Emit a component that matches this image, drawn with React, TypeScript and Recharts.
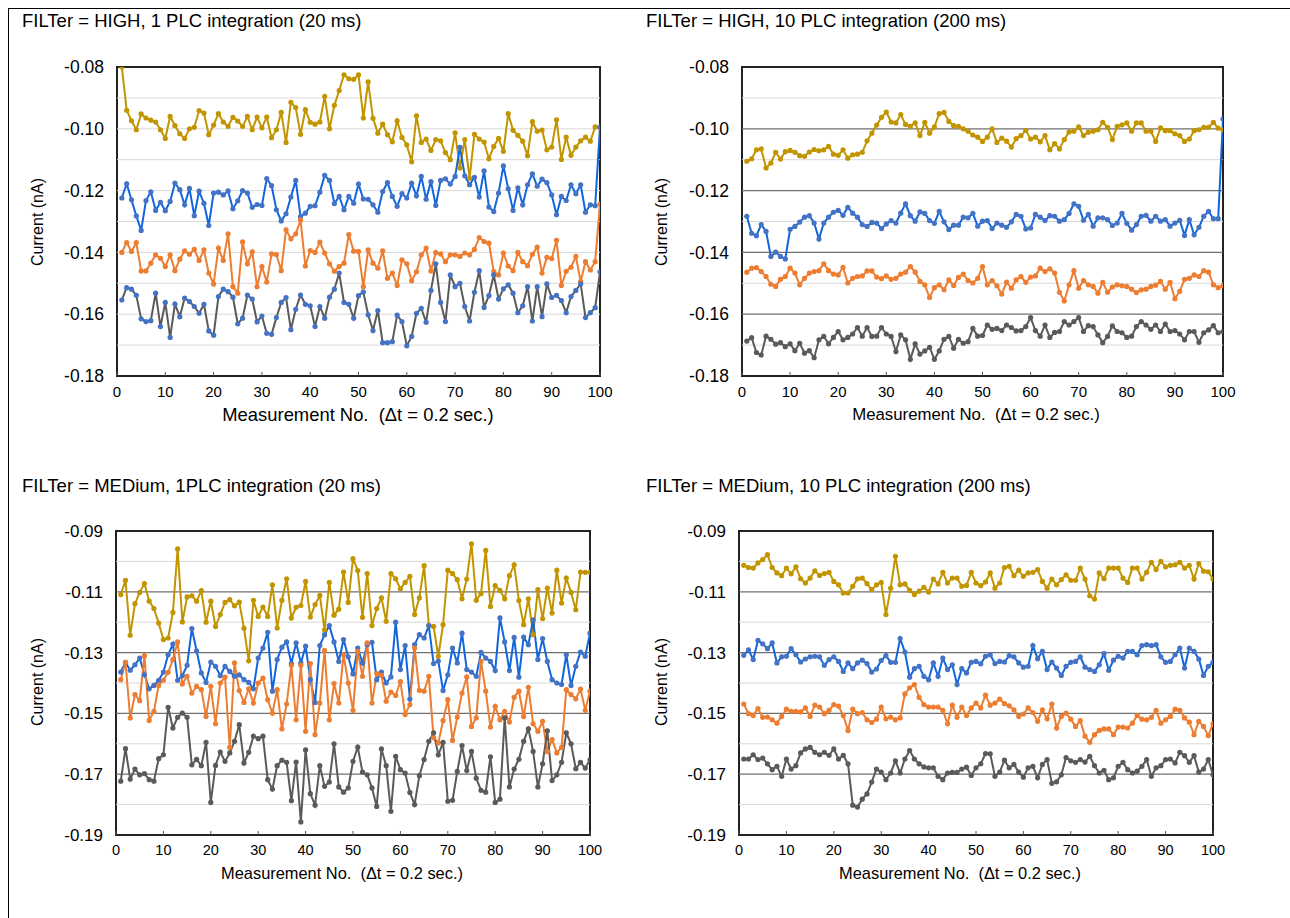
import React from 'react';
import { LineChart, Line, XAxis, YAxis, ReferenceLine, ReferenceArea } from 'recharts';

// ---------- categories / ticks ----------
const measurementNo: number[] = Array.from({ length: 100 }, (_, i) => i + 1);
const xTicks = [0, 10, 20, 30, 40, 50, 60, 70, 80, 90, 100];
const yTicksHigh = [-0.18, -0.16, -0.14, -0.12, -0.1, -0.08];
const yTicksMed = [-0.19, -0.17, -0.15, -0.13, -0.11, -0.09];
const gridHighAll = [-0.17, -0.16, -0.15, -0.14, -0.13, -0.12, -0.11, -0.1, -0.09];
const gridHighMajor = [-0.16, -0.14, -0.12, -0.1];
const gridHighMinor = [-0.17, -0.15, -0.13, -0.11, -0.09];
const gridMedMajor = [-0.17, -0.15, -0.13, -0.11];
const gridMedMinor = [-0.18, -0.16, -0.14, -0.12, -0.1];

// ---------- Panel 1: FILTer = HIGH, 1 PLC ----------
const p1Yellow = [
  -0.0800, -0.0940, -0.0974, -0.1003, -0.0952, -0.0965, -0.0972, -0.0978, -0.1003, -0.1031,
  -0.0960, -0.0990, -0.1016, -0.1031, -0.1000, -0.0995, -0.0941, -0.0949, -0.1019, -0.0988,
  -0.0951, -0.0978, -0.0992, -0.0963, -0.0975, -0.0992, -0.0960, -0.1003, -0.0962, -0.0997,
  -0.0962, -0.1029, -0.1003, -0.0947, -0.1044, -0.0914, -0.0931, -0.1018, -0.0938, -0.0979,
  -0.0985, -0.0978, -0.0895, -0.1000, -0.0924, -0.0876, -0.0825, -0.0838, -0.0840, -0.0825,
  -0.0965, -0.0848, -0.0966, -0.1014, -0.0985, -0.1019, -0.1042, -0.0974, -0.1028, -0.1052,
  -0.1107, -0.0958, -0.1044, -0.1033, -0.1070, -0.1035, -0.1039, -0.1077, -0.1100, -0.1013,
  -0.1127, -0.1035, -0.1160, -0.1018, -0.1033, -0.1043, -0.1097, -0.1057, -0.1031, -0.1073,
  -0.0951, -0.1005, -0.1021, -0.1040, -0.1087, -0.0977, -0.1008, -0.1004, -0.1068, -0.1059,
  -0.0971, -0.1099, -0.1027, -0.1086, -0.1059, -0.1039, -0.1027, -0.1040, -0.0994, -0.0995,
];
const p1Blue = [
  -0.1224, -0.1178, -0.1230, -0.1282, -0.1329, -0.1232, -0.1204, -0.1264, -0.1238, -0.1265,
  -0.1235, -0.1176, -0.1197, -0.1246, -0.1193, -0.1281, -0.1202, -0.1241, -0.1313, -0.1208,
  -0.1205, -0.1214, -0.1201, -0.1259, -0.1233, -0.1200, -0.1208, -0.1254, -0.1245, -0.1248,
  -0.1161, -0.1184, -0.1262, -0.1298, -0.1275, -0.1221, -0.1167, -0.1284, -0.1273, -0.1251,
  -0.1249, -0.1205, -0.1151, -0.1167, -0.1242, -0.1219, -0.1262, -0.1219, -0.1241, -0.1179,
  -0.1227, -0.1228, -0.1246, -0.1270, -0.1203, -0.1174, -0.1219, -0.1251, -0.1210, -0.1224,
  -0.1176, -0.1217, -0.1154, -0.1228, -0.1171, -0.1248, -0.1167, -0.1162, -0.1179, -0.1154,
  -0.1060, -0.1152, -0.1181, -0.1157, -0.1221, -0.1136, -0.1253, -0.1268, -0.1208, -0.1120,
  -0.1194, -0.1264, -0.1191, -0.1246, -0.1181, -0.1146, -0.1186, -0.1163, -0.1174, -0.1214,
  -0.1278, -0.1219, -0.1232, -0.1181, -0.1210, -0.1181, -0.1270, -0.1246, -0.1249, -0.0995,
];
const p1Orange = [
  -0.1400, -0.1368, -0.1397, -0.1368, -0.1460, -0.1460, -0.1435, -0.1408, -0.1419, -0.1446,
  -0.1408, -0.1459, -0.1422, -0.1395, -0.1406, -0.1390, -0.1426, -0.1392, -0.1467, -0.1502,
  -0.1386, -0.1426, -0.1340, -0.1511, -0.1532, -0.1366, -0.1437, -0.1398, -0.1511, -0.1446,
  -0.1496, -0.1405, -0.1407, -0.1459, -0.1327, -0.1356, -0.1340, -0.1295, -0.1444, -0.1394,
  -0.1400, -0.1367, -0.1402, -0.1437, -0.1461, -0.1446, -0.1435, -0.1342, -0.1396, -0.1397,
  -0.1511, -0.1392, -0.1435, -0.1451, -0.1395, -0.1484, -0.1467, -0.1507, -0.1424, -0.1437,
  -0.1492, -0.1463, -0.1408, -0.1386, -0.1460, -0.1400, -0.1405, -0.1430, -0.1408, -0.1408,
  -0.1413, -0.1402, -0.1408, -0.1390, -0.1352, -0.1365, -0.1370, -0.1462, -0.1473, -0.1402,
  -0.1444, -0.1459, -0.1400, -0.1430, -0.1443, -0.1406, -0.1383, -0.1467, -0.1416, -0.1420,
  -0.1361, -0.1507, -0.1461, -0.1448, -0.1413, -0.1494, -0.1430, -0.1457, -0.1430, -0.1243,
];
const p1Grey = [
  -0.1554, -0.1514, -0.1519, -0.1539, -0.1615, -0.1624, -0.1621, -0.1532, -0.1640, -0.1562,
  -0.1675, -0.1567, -0.1608, -0.1548, -0.1559, -0.1575, -0.1597, -0.1568, -0.1654, -0.1668,
  -0.1543, -0.1519, -0.1527, -0.1545, -0.1631, -0.1613, -0.1538, -0.1551, -0.1625, -0.1606,
  -0.1662, -0.1665, -0.1611, -0.1562, -0.1546, -0.1650, -0.1584, -0.1538, -0.1568, -0.1573,
  -0.1640, -0.1575, -0.1613, -0.1545, -0.1519, -0.1467, -0.1562, -0.1568, -0.1613, -0.1540,
  -0.1528, -0.1602, -0.1653, -0.1588, -0.1692, -0.1692, -0.1689, -0.1603, -0.1624, -0.1702,
  -0.1672, -0.1597, -0.1581, -0.1626, -0.1523, -0.1437, -0.1562, -0.1624, -0.1473, -0.1511,
  -0.1500, -0.1575, -0.1622, -0.1529, -0.1459, -0.1578, -0.1540, -0.1473, -0.1551, -0.1518,
  -0.1505, -0.1532, -0.1595, -0.1573, -0.1511, -0.1622, -0.1511, -0.1608, -0.1502, -0.1546,
  -0.1539, -0.1556, -0.1595, -0.1543, -0.1523, -0.1502, -0.1611, -0.1595, -0.1579, -0.1463,
];

// ---------- Panel 2: FILTer = HIGH, 10 PLC ----------
const p2Yellow = [
  -0.1105, -0.1097, -0.1068, -0.1065, -0.1127, -0.1111, -0.1076, -0.1098, -0.1074, -0.1070,
  -0.1076, -0.1087, -0.1089, -0.1075, -0.1067, -0.1071, -0.1068, -0.1057, -0.1082, -0.1086,
  -0.1068, -0.1095, -0.1084, -0.1082, -0.1076, -0.1039, -0.1014, -0.0988, -0.0963, -0.0946,
  -0.0978, -0.0981, -0.0954, -0.0986, -0.0992, -0.0981, -0.1022, -0.0979, -0.1014, -0.0994,
  -0.0951, -0.0947, -0.0976, -0.0990, -0.0992, -0.1000, -0.1008, -0.1020, -0.1027, -0.1041,
  -0.1027, -0.1000, -0.1044, -0.1030, -0.1040, -0.1059, -0.1032, -0.1022, -0.1005, -0.1033,
  -0.1027, -0.1042, -0.1022, -0.1068, -0.1048, -0.1065, -0.1035, -0.1010, -0.1008, -0.0994,
  -0.1022, -0.1011, -0.1008, -0.1003, -0.0979, -0.0995, -0.1035, -0.0992, -0.0987, -0.0981,
  -0.1008, -0.0981, -0.0981, -0.1008, -0.1008, -0.1041, -0.0997, -0.1006, -0.1006, -0.1016,
  -0.1022, -0.1041, -0.1033, -0.1006, -0.1003, -0.0995, -0.0995, -0.0979, -0.0998, -0.1003,
];
const p2Blue = [
  -0.1283, -0.1338, -0.1346, -0.1310, -0.1332, -0.1413, -0.1399, -0.1413, -0.1421, -0.1325,
  -0.1316, -0.1302, -0.1286, -0.1281, -0.1305, -0.1357, -0.1305, -0.1286, -0.1270, -0.1264,
  -0.1280, -0.1254, -0.1273, -0.1286, -0.1310, -0.1316, -0.1303, -0.1305, -0.1323, -0.1308,
  -0.1297, -0.1305, -0.1273, -0.1243, -0.1281, -0.1299, -0.1269, -0.1274, -0.1297, -0.1306,
  -0.1267, -0.1301, -0.1326, -0.1312, -0.1312, -0.1286, -0.1288, -0.1274, -0.1315, -0.1299,
  -0.1297, -0.1323, -0.1305, -0.1312, -0.1319, -0.1301, -0.1277, -0.1283, -0.1324, -0.1321,
  -0.1277, -0.1286, -0.1297, -0.1281, -0.1283, -0.1299, -0.1294, -0.1274, -0.1243, -0.1251,
  -0.1296, -0.1277, -0.1315, -0.1288, -0.1288, -0.1294, -0.1313, -0.1305, -0.1274, -0.1306,
  -0.1328, -0.1310, -0.1283, -0.1280, -0.1299, -0.1283, -0.1299, -0.1294, -0.1315, -0.1305,
  -0.1296, -0.1345, -0.1294, -0.1343, -0.1319, -0.1283, -0.1267, -0.1291, -0.1291, -0.0968,
];
const p2Orange = [
  -0.1464, -0.1451, -0.1449, -0.1462, -0.1478, -0.1503, -0.1510, -0.1487, -0.1478, -0.1451,
  -0.1467, -0.1505, -0.1484, -0.1467, -0.1462, -0.1459, -0.1437, -0.1459, -0.1470, -0.1473,
  -0.1448, -0.1499, -0.1484, -0.1478, -0.1476, -0.1460, -0.1460, -0.1480, -0.1485, -0.1476,
  -0.1487, -0.1484, -0.1470, -0.1464, -0.1446, -0.1464, -0.1494, -0.1505, -0.1546, -0.1514,
  -0.1505, -0.1521, -0.1489, -0.1507, -0.1481, -0.1470, -0.1491, -0.1499, -0.1484, -0.1446,
  -0.1505, -0.1491, -0.1508, -0.1535, -0.1496, -0.1516, -0.1489, -0.1478, -0.1497, -0.1480,
  -0.1476, -0.1451, -0.1462, -0.1453, -0.1467, -0.1529, -0.1557, -0.1505, -0.1459, -0.1516,
  -0.1491, -0.1505, -0.1510, -0.1532, -0.1497, -0.1529, -0.1512, -0.1505, -0.1508, -0.1510,
  -0.1519, -0.1530, -0.1521, -0.1519, -0.1510, -0.1506, -0.1494, -0.1519, -0.1497, -0.1550,
  -0.1526, -0.1487, -0.1484, -0.1473, -0.1478, -0.1459, -0.1464, -0.1505, -0.1514, -0.1508,
];
const p2Grey = [
  -0.1687, -0.1676, -0.1724, -0.1732, -0.1671, -0.1681, -0.1697, -0.1692, -0.1705, -0.1696,
  -0.1718, -0.1694, -0.1726, -0.1718, -0.1741, -0.1683, -0.1672, -0.1696, -0.1675, -0.1656,
  -0.1683, -0.1675, -0.1664, -0.1643, -0.1671, -0.1643, -0.1672, -0.1671, -0.1643, -0.1664,
  -0.1672, -0.1721, -0.1667, -0.1683, -0.1746, -0.1696, -0.1729, -0.1719, -0.1707, -0.1746,
  -0.1719, -0.1681, -0.1672, -0.1710, -0.1681, -0.1694, -0.1689, -0.1646, -0.1671, -0.1669,
  -0.1635, -0.1649, -0.1646, -0.1653, -0.1635, -0.1643, -0.1654, -0.1653, -0.1640, -0.1611,
  -0.1653, -0.1671, -0.1635, -0.1675, -0.1659, -0.1656, -0.1624, -0.1635, -0.1624, -0.1611,
  -0.1656, -0.1637, -0.1640, -0.1667, -0.1692, -0.1672, -0.1638, -0.1656, -0.1660, -0.1675,
  -0.1671, -0.1640, -0.1624, -0.1635, -0.1649, -0.1635, -0.1656, -0.1632, -0.1656, -0.1653,
  -0.1664, -0.1683, -0.1656, -0.1656, -0.1691, -0.1660, -0.1651, -0.1637, -0.1660, -0.1656,
];

// ---------- Panel 3: FILTer = MEDium, 1 PLC ----------
const p3Yellow = [
  -0.1109, -0.1062, -0.1243, -0.1139, -0.1102, -0.1073, -0.1131, -0.1155, -0.1203, -0.1257,
  -0.1252, -0.1168, -0.0959, -0.1199, -0.1117, -0.1113, -0.1131, -0.1096, -0.1200, -0.1131,
  -0.1214, -0.1175, -0.1135, -0.1126, -0.1146, -0.1134, -0.1220, -0.1327, -0.1128, -0.1181,
  -0.1150, -0.1181, -0.1077, -0.1219, -0.1128, -0.1057, -0.1186, -0.1151, -0.1145, -0.1066,
  -0.1183, -0.1142, -0.1112, -0.1225, -0.1069, -0.1177, -0.1157, -0.1035, -0.1135, -0.0991,
  -0.1030, -0.1184, -0.1040, -0.1211, -0.1155, -0.1120, -0.1197, -0.1040, -0.1057, -0.1090,
  -0.1069, -0.1049, -0.1175, -0.1120, -0.1014, -0.1211, -0.1214, -0.1312, -0.1208, -0.1029,
  -0.1040, -0.1060, -0.1123, -0.1058, -0.0942, -0.1128, -0.1106, -0.0964, -0.1148, -0.1080,
  -0.1095, -0.1123, -0.1047, -0.1011, -0.1129, -0.1208, -0.1123, -0.1241, -0.1093, -0.1188,
  -0.1088, -0.1170, -0.1029, -0.1137, -0.1055, -0.1102, -0.1159, -0.1035, -0.1036, -0.1036,
];
const p3Blue = [
  -0.1364, -0.1332, -0.1358, -0.1340, -0.1318, -0.1373, -0.1419, -0.1408, -0.1391, -0.1364,
  -0.1307, -0.1272, -0.1391, -0.1376, -0.1342, -0.1221, -0.1294, -0.1367, -0.1398, -0.1331,
  -0.1345, -0.1376, -0.1345, -0.1362, -0.1378, -0.1373, -0.1389, -0.1398, -0.1419, -0.1318,
  -0.1285, -0.1233, -0.1427, -0.1323, -0.1282, -0.1265, -0.1336, -0.1268, -0.1334, -0.1279,
  -0.1389, -0.1464, -0.1277, -0.1241, -0.1211, -0.1265, -0.1329, -0.1257, -0.1314, -0.1370,
  -0.1285, -0.1334, -0.1274, -0.1266, -0.1389, -0.1364, -0.1400, -0.1380, -0.1200, -0.1356,
  -0.1277, -0.1453, -0.1274, -0.1241, -0.1252, -0.1211, -0.1336, -0.1328, -0.1425, -0.1373,
  -0.1285, -0.1334, -0.1236, -0.1356, -0.1364, -0.1378, -0.1299, -0.1318, -0.1329, -0.1359,
  -0.1186, -0.1265, -0.1359, -0.1250, -0.1381, -0.1249, -0.1274, -0.1192, -0.1323, -0.1254,
  -0.1329, -0.1389, -0.1400, -0.1405, -0.1307, -0.1408, -0.1345, -0.1298, -0.1312, -0.1236,
];
const p3Orange = [
  -0.1389, -0.1332, -0.1515, -0.1438, -0.1458, -0.1310, -0.1523, -0.1493, -0.1408, -0.1391,
  -0.1365, -0.1323, -0.1265, -0.1403, -0.1378, -0.1433, -0.1411, -0.1422, -0.1510, -0.1411,
  -0.1534, -0.1400, -0.1381, -0.1612, -0.1334, -0.1425, -0.1464, -0.1419, -0.1466, -0.1400,
  -0.1384, -0.1455, -0.1499, -0.1422, -0.1551, -0.1469, -0.1342, -0.1521, -0.1342, -0.1559,
  -0.1336, -0.1570, -0.1466, -0.1293, -0.1521, -0.1402, -0.1466, -0.1307, -0.1400, -0.1490,
  -0.1296, -0.1378, -0.1268, -0.1466, -0.1369, -0.1375, -0.1460, -0.1430, -0.1441, -0.1395,
  -0.1504, -0.1471, -0.1285, -0.1424, -0.1427, -0.1378, -0.1580, -0.1597, -0.1524, -0.1455,
  -0.1589, -0.1512, -0.1433, -0.1380, -0.1543, -0.1515, -0.1329, -0.1427, -0.1545, -0.1477,
  -0.1521, -0.1493, -0.1528, -0.1447, -0.1427, -0.1510, -0.1414, -0.1534, -0.1559, -0.1526,
  -0.1625, -0.1586, -0.1630, -0.1612, -0.1422, -0.1438, -0.1452, -0.1420, -0.1490, -0.1427,
];
const p3Grey = [
  -0.1723, -0.1616, -0.1716, -0.1683, -0.1702, -0.1698, -0.1718, -0.1723, -0.1649, -0.1636,
  -0.1480, -0.1548, -0.1513, -0.1499, -0.1513, -0.1669, -0.1651, -0.1672, -0.1595, -0.1793,
  -0.1671, -0.1627, -0.1658, -0.1630, -0.1592, -0.1537, -0.1663, -0.1628, -0.1575, -0.1583,
  -0.1575, -0.1718, -0.1749, -0.1672, -0.1654, -0.1661, -0.1787, -0.1660, -0.1857, -0.1620,
  -0.1764, -0.1802, -0.1672, -0.1740, -0.1726, -0.1600, -0.1742, -0.1759, -0.1745, -0.1658,
  -0.1611, -0.1693, -0.1702, -0.1745, -0.1806, -0.1617, -0.1672, -0.1822, -0.1641, -0.1685,
  -0.1696, -0.1760, -0.1800, -0.1705, -0.1652, -0.1592, -0.1564, -0.1636, -0.1595, -0.1789,
  -0.1786, -0.1691, -0.1606, -0.1688, -0.1625, -0.1713, -0.1753, -0.1759, -0.1643, -0.1793,
  -0.1782, -0.1515, -0.1742, -0.1683, -0.1651, -0.1592, -0.1551, -0.1625, -0.1742, -0.1666,
  -0.1557, -0.1721, -0.1702, -0.1661, -0.1564, -0.1600, -0.1682, -0.1661, -0.1680, -0.1652,
];

// ---------- Panel 4: FILTer = MEDium, 10 PLC ----------
const p4Yellow = [
  -0.1013, -0.1020, -0.1022, -0.1005, -0.0994, -0.0978, -0.1020, -0.1038, -0.1047, -0.1022,
  -0.1041, -0.1018, -0.1057, -0.1071, -0.1055, -0.1031, -0.1046, -0.1040, -0.1036, -0.1066,
  -0.1077, -0.1104, -0.1104, -0.1082, -0.1057, -0.1055, -0.1073, -0.1093, -0.1077, -0.1069,
  -0.1175, -0.1088, -0.0983, -0.1077, -0.1074, -0.1095, -0.1109, -0.1098, -0.1085, -0.1101,
  -0.1058, -0.1074, -0.1036, -0.1071, -0.1055, -0.1055, -0.1082, -0.1079, -0.1036, -0.1071,
  -0.1080, -0.1068, -0.1038, -0.1088, -0.1071, -0.1020, -0.1016, -0.1047, -0.1029, -0.1049,
  -0.1038, -0.1036, -0.1027, -0.1066, -0.1088, -0.1058, -0.1077, -0.1060, -0.1044, -0.1062,
  -0.1062, -0.1022, -0.1058, -0.1113, -0.1124, -0.1038, -0.1057, -0.1022, -0.1022, -0.1022,
  -0.1055, -0.1069, -0.1022, -0.1022, -0.1058, -0.1036, -0.1003, -0.1027, -0.1000, -0.1018,
  -0.1013, -0.1011, -0.1003, -0.1022, -0.1013, -0.1058, -0.1007, -0.1032, -0.1034, -0.1058,
];
const p4Blue = [
  -0.1309, -0.1291, -0.1323, -0.1260, -0.1271, -0.1287, -0.1268, -0.1334, -0.1314, -0.1312,
  -0.1287, -0.1307, -0.1331, -0.1321, -0.1314, -0.1312, -0.1314, -0.1342, -0.1323, -0.1314,
  -0.1329, -0.1362, -0.1334, -0.1353, -0.1334, -0.1325, -0.1336, -0.1364, -0.1354, -0.1326,
  -0.1310, -0.1332, -0.1332, -0.1254, -0.1298, -0.1381, -0.1353, -0.1345, -0.1378, -0.1389,
  -0.1334, -0.1378, -0.1318, -0.1356, -0.1340, -0.1405, -0.1353, -0.1367, -0.1332, -0.1329,
  -0.1337, -0.1312, -0.1307, -0.1336, -0.1329, -0.1331, -0.1310, -0.1314, -0.1334, -0.1348,
  -0.1345, -0.1277, -0.1320, -0.1296, -0.1356, -0.1331, -0.1351, -0.1375, -0.1345, -0.1332,
  -0.1329, -0.1314, -0.1348, -0.1356, -0.1362, -0.1340, -0.1303, -0.1358, -0.1325, -0.1312,
  -0.1318, -0.1296, -0.1296, -0.1307, -0.1277, -0.1274, -0.1277, -0.1274, -0.1314, -0.1332,
  -0.1329, -0.1307, -0.1285, -0.1351, -0.1285, -0.1296, -0.1321, -0.1375, -0.1345, -0.1332,
];
const p4Orange = [
  -0.1469, -0.1501, -0.1507, -0.1484, -0.1513, -0.1512, -0.1521, -0.1532, -0.1510, -0.1486,
  -0.1493, -0.1493, -0.1495, -0.1482, -0.1510, -0.1473, -0.1479, -0.1501, -0.1490, -0.1471,
  -0.1476, -0.1507, -0.1556, -0.1486, -0.1501, -0.1497, -0.1521, -0.1530, -0.1519, -0.1479,
  -0.1518, -0.1512, -0.1521, -0.1515, -0.1436, -0.1416, -0.1405, -0.1447, -0.1471, -0.1479,
  -0.1479, -0.1479, -0.1490, -0.1534, -0.1473, -0.1513, -0.1479, -0.1507, -0.1482, -0.1466,
  -0.1482, -0.1440, -0.1473, -0.1466, -0.1453, -0.1468, -0.1475, -0.1488, -0.1510, -0.1502,
  -0.1482, -0.1497, -0.1526, -0.1488, -0.1518, -0.1469, -0.1548, -0.1510, -0.1499, -0.1519,
  -0.1543, -0.1524, -0.1575, -0.1595, -0.1570, -0.1556, -0.1551, -0.1551, -0.1570, -0.1545,
  -0.1545, -0.1548, -0.1532, -0.1507, -0.1519, -0.1521, -0.1513, -0.1490, -0.1532, -0.1521,
  -0.1510, -0.1486, -0.1490, -0.1515, -0.1529, -0.1570, -0.1526, -0.1543, -0.1573, -0.1534,
];
const p4Grey = [
  -0.1650, -0.1650, -0.1636, -0.1652, -0.1647, -0.1666, -0.1685, -0.1674, -0.1707, -0.1650,
  -0.1683, -0.1672, -0.1630, -0.1617, -0.1612, -0.1628, -0.1636, -0.1628, -0.1638, -0.1617,
  -0.1650, -0.1638, -0.1666, -0.1802, -0.1808, -0.1782, -0.1765, -0.1726, -0.1683, -0.1693,
  -0.1718, -0.1696, -0.1656, -0.1696, -0.1650, -0.1622, -0.1650, -0.1666, -0.1676, -0.1679,
  -0.1679, -0.1707, -0.1718, -0.1696, -0.1694, -0.1694, -0.1683, -0.1677, -0.1704, -0.1679,
  -0.1666, -0.1632, -0.1633, -0.1707, -0.1693, -0.1654, -0.1679, -0.1668, -0.1693, -0.1710,
  -0.1679, -0.1674, -0.1712, -0.1668, -0.1652, -0.1730, -0.1725, -0.1702, -0.1645, -0.1656,
  -0.1661, -0.1652, -0.1660, -0.1641, -0.1672, -0.1696, -0.1687, -0.1718, -0.1712, -0.1674,
  -0.1661, -0.1685, -0.1696, -0.1690, -0.1674, -0.1652, -0.1707, -0.1679, -0.1672, -0.1652,
  -0.1650, -0.1663, -0.1628, -0.1639, -0.1661, -0.1639, -0.1693, -0.1683, -0.1652, -0.1702,
];

// ---------- styles ----------
const YELLOW = '#C29500';
const BLUE = '#1166DD';
const BLUE_DOT = '#4472C4';
const ORANGE = '#ED7D31';
const GREY = '#5A5A5A';
const FONT = '"Liberation Sans", Arial, Helvetica, sans-serif';

type Series = { key: string; values: number[]; color: string; dot: string };

type PanelProps = {
  px: number; py: number; pw: number; ph: number;
  domain: [number, number];
  yTicks: number[];
  minor: number[];
  major: number[];
  series: Series[];
  yTickFont: number;
  xTickFont: number;
};

function Panel(p: PanelProps) {
  const wy = 100, mt = 20, mr = 30, hx = 40;
  const data = measurementNo.map((n, i) => {
    const row: Record<string, number> = { n };
    p.series.forEach((s) => { row[s.key] = s.values[i]; });
    return row;
  });
  return (
    <div style={{ position: 'absolute', left: p.px - wy, top: p.py - mt }}>
      <LineChart width={wy + p.pw + mr} height={mt + p.ph + hx} data={data}
        margin={{ top: mt, right: mr, bottom: 0, left: 0 }}>
        {p.minor.map((v) => (
          <ReferenceLine key={'mi' + v} y={v} stroke="#D9D9D9" strokeWidth={1} />
        ))}
        {p.major.map((v) => (
          <ReferenceLine key={'ma' + v} y={v} stroke="#707070" strokeWidth={1.2} />
        ))}
        <XAxis dataKey="n" type="number" domain={[0, 100]} ticks={xTicks} interval={0}
          allowDataOverflow height={hx} axisLine={false}
          tickLine={{ stroke: '#555' }} tickSize={-4} tickMargin={14}
          tick={{ fill: '#000', fontSize: p.xTickFont, fontFamily: FONT }} />
        <YAxis type="number" domain={p.domain} ticks={p.yTicks} interval={0}
          allowDataOverflow width={wy} axisLine={false} tickLine={false}
          tickSize={0} tickMargin={13}
          tickFormatter={(v: number) => v.toFixed(2)}
          tick={{ fill: '#000', fontSize: p.yTickFont, fontFamily: FONT }} />
        {p.series.map((s) => (
          <Line key={s.key} dataKey={s.key} type="linear" stroke={s.color} strokeWidth={2}
            isAnimationActive={false} activeDot={false}
            dot={{ r: 2.6, fill: s.dot, stroke: s.dot, strokeWidth: 0 }} />
        ))}
        <ReferenceArea x1={0} x2={100} y1={p.domain[0]} y2={p.domain[1]}
          fill="none" fillOpacity={0} stroke="#222" strokeWidth={2} ifOverflow="visible" />
      </LineChart>
    </div>
  );
}

function Label({ text, left, cy, size }: { text: string; left: number; cy: number; size: number }) {
  return (
    <div style={{ position: 'absolute', left, top: cy, transform: 'translateY(-50%)',
      fontSize: size, fontFamily: FONT, whiteSpace: 'nowrap', color: '#000', lineHeight: 1 }}>{text}</div>
  );
}
function CLabel({ text, cx, cy, size, rotate }: { text: string; cx: number; cy: number; size: number; rotate?: boolean }) {
  return (
    <div style={{ position: 'absolute', left: cx, top: cy,
      transform: `translate(-50%, -50%)${rotate ? ' rotate(-90deg)' : ''}`,
      fontSize: size, fontFamily: FONT, whiteSpace: 'pre', color: '#000', lineHeight: 1 }}>{text}</div>
  );
}

const xTitle = 'Measurement No.  (\u0394t = 0.2 sec.)';
const yTitle = 'Current (nA)';

export default function App() {
  return (
    <div style={{ position: 'relative', width: 1290, height: 918, background: '#fff', overflow: 'hidden', fontFamily: FONT }}>
      <style>{'body{margin:0;overflow:hidden;background:#fff}'}</style>
      <div style={{ position: 'absolute', left: 8, top: 8, width: 1300, height: 920,
        borderLeft: '1px solid #000', borderTop: '1px solid #000' }} />

      <Label text="FILTer = HIGH, 1 PLC integration (20 ms)" left={22} cy={21} size={18.5} />
      <Label text="FILTer = HIGH, 10 PLC integration (200 ms)" left={646} cy={21} size={18.5} />
      <Label text="FILTer = MEDium, 1PLC integration (20 ms)" left={22} cy={486} size={18.5} />
      <Label text="FILTer = MEDium, 10 PLC integration (200 ms)" left={646} cy={486} size={18.5} />

      <CLabel text={yTitle} cx={38} cy={222} size={16} rotate />
      <CLabel text={yTitle} cx={662} cy={222} size={16} rotate />
      <CLabel text={yTitle} cx={38} cy={682} size={16} rotate />
      <CLabel text={yTitle} cx={662} cy={682} size={16} rotate />

      <CLabel text={xTitle} cx={358} cy={415} size={18.4} />
      <CLabel text={xTitle} cx={976} cy={415} size={16.8} />
      <CLabel text={xTitle} cx={342} cy={873} size={16.4} />
      <CLabel text={xTitle} cx={960} cy={873} size={16.4} />

      <Panel px={117} py={67} pw={483} ph={309} domain={[-0.18, -0.08]} yTicks={yTicksHigh}
        minor={gridHighAll} major={[]} yTickFont={17.5} xTickFont={15}
        series={[
          { key: 'yellow', values: p1Yellow, color: YELLOW, dot: YELLOW },
          { key: 'blue', values: p1Blue, color: BLUE, dot: BLUE_DOT },
          { key: 'orange', values: p1Orange, color: ORANGE, dot: ORANGE },
          { key: 'grey', values: p1Grey, color: GREY, dot: BLUE_DOT },
        ]} />
      <Panel px={741.5} py={67} pw={481} ph={309} domain={[-0.18, -0.08]} yTicks={yTicksHigh}
        minor={gridHighMinor} major={gridHighMajor} yTickFont={17.5} xTickFont={15}
        series={[
          { key: 'yellow', values: p2Yellow, color: YELLOW, dot: YELLOW },
          { key: 'blue', values: p2Blue, color: BLUE, dot: BLUE_DOT },
          { key: 'orange', values: p2Orange, color: ORANGE, dot: ORANGE },
          { key: 'grey', values: p2Grey, color: GREY, dot: GREY },
        ]} />
      <Panel px={116} py={531} pw={474} ph={304} domain={[-0.19, -0.09]} yTicks={yTicksMed}
        minor={gridMedMinor} major={gridMedMajor} yTickFont={17} xTickFont={14.5}
        series={[
          { key: 'yellow', values: p3Yellow, color: YELLOW, dot: YELLOW },
          { key: 'blue', values: p3Blue, color: BLUE, dot: BLUE_DOT },
          { key: 'orange', values: p3Orange, color: ORANGE, dot: ORANGE },
          { key: 'grey', values: p3Grey, color: GREY, dot: GREY },
        ]} />
      <Panel px={739} py={531} pw={474} ph={304} domain={[-0.19, -0.09]} yTicks={yTicksMed}
        minor={gridMedMinor} major={gridMedMajor} yTickFont={17} xTickFont={14.5}
        series={[
          { key: 'yellow', values: p4Yellow, color: YELLOW, dot: YELLOW },
          { key: 'blue', values: p4Blue, color: BLUE, dot: BLUE_DOT },
          { key: 'orange', values: p4Orange, color: ORANGE, dot: ORANGE },
          { key: 'grey', values: p4Grey, color: GREY, dot: GREY },
        ]} />
    </div>
  );
}
